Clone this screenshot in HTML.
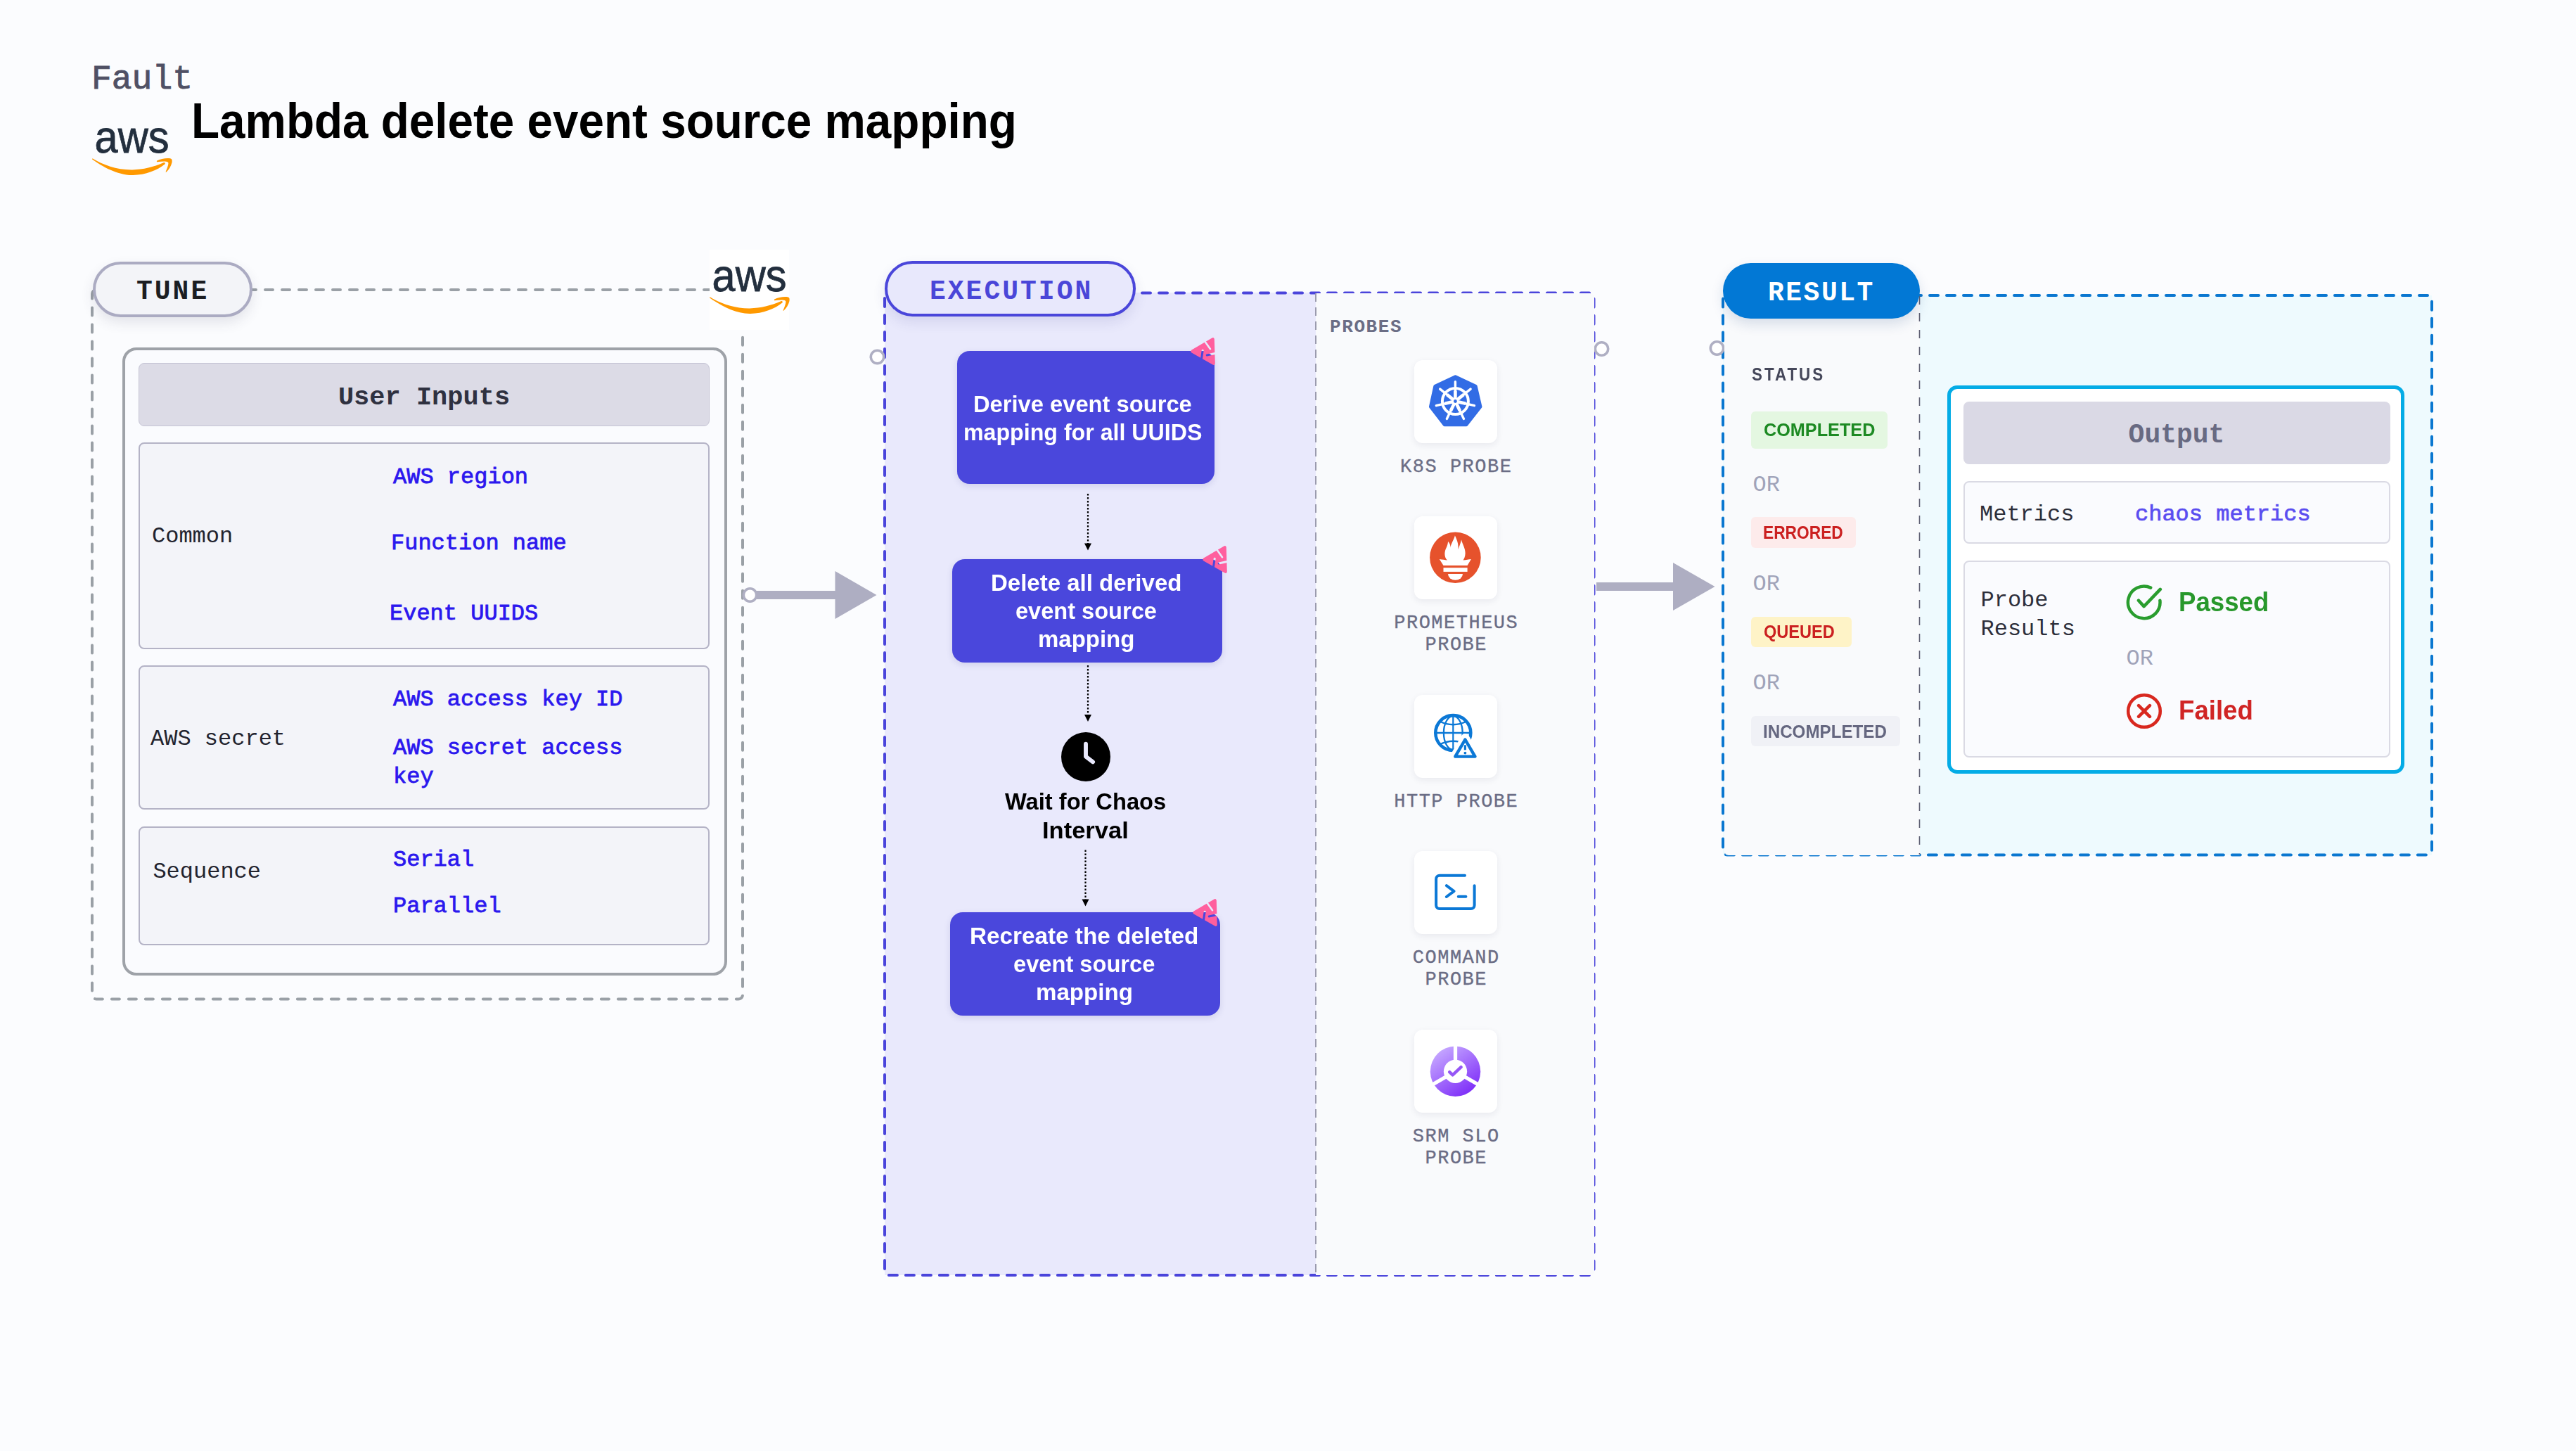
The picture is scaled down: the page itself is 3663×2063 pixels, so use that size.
<!DOCTYPE html>
<html><head><meta charset="utf-8"><style>
html,body{margin:0;padding:0;}
body{width:3663px;height:2063px;background:#FBFCFE;position:relative;overflow:hidden;}
.t{position:absolute;white-space:pre;}
.r{position:absolute;box-sizing:border-box;}
.ov{position:absolute;left:0;top:0;}
</style></head><body>
<div class="r" style="left:1258px;top:416px;width:613px;height:1397px;background:#E9E9FC;"></div>
<div class="r" style="left:2450px;top:420px;width:1008px;height:795.5px;background:#EEFAFE;"></div>
<svg class="ov" width="3663" height="2063" viewBox="0 0 3663 2063"><rect x="131" y="412" width="925" height="1008.5" rx="6" fill="none" stroke="#9AA0A6" stroke-width="4" stroke-dasharray="11 13" stroke-linecap="round"/><rect x="1258" y="416.5" width="1008.5" height="1396.5" rx="6" fill="none" stroke="#4A44DB" stroke-width="4" stroke-dasharray="12 12" stroke-linecap="round"/><rect x="2450" y="420" width="1008" height="795.5" rx="6" fill="none" stroke="#0A77D0" stroke-width="4" stroke-dasharray="12 12" stroke-linecap="round"/><rect x="1074" y="840" width="114.5" height="12" fill="#AEAEC2"/><path d="M1187.5 812.0 L1246.5 846 L1187.5 880.0 Z" fill="#AEAEC2"/><rect x="2270" y="828" width="110" height="12" fill="#AEAEC2"/><path d="M2379 800.0 L2438.5 834 L2379 868.0 Z" fill="#AEAEC2"/><circle cx="1066.5" cy="846" r="9.2" fill="#FFFFFF" stroke="#AFAFC3" stroke-width="3.6"/><circle cx="1247.5" cy="507.5" r="9.2" fill="#FFFFFF" stroke="#AFAFC3" stroke-width="3.6"/><circle cx="2277.5" cy="496" r="9.2" fill="#FFFFFF" stroke="#AFAFC3" stroke-width="3.6"/><circle cx="2441.5" cy="495" r="9.2" fill="#FFFFFF" stroke="#AFAFC3" stroke-width="3.6"/><line x1="1547" y1="702" x2="1547" y2="773.5" stroke="#000" stroke-width="2.2" stroke-dasharray="2.6 2.4"/><path d="M1542 772.5 L1552 772.5 L1547 782.5 Z" fill="#000"/><line x1="1547" y1="946" x2="1547" y2="1017" stroke="#000" stroke-width="2.2" stroke-dasharray="2.6 2.4"/><path d="M1542 1016 L1552 1016 L1547 1026 Z" fill="#000"/><line x1="1543.5" y1="1208.5" x2="1543.5" y2="1279.5" stroke="#000" stroke-width="2.2" stroke-dasharray="2.6 2.4"/><path d="M1538.5 1278.5 L1548.5 1278.5 L1543.5 1288.5 Z" fill="#000"/></svg>
<div class="r" style="left:1871px;top:417px;width:395.5px;height:1396px;background:#F9FAFC;border-radius:0 6px 6px 0;"></div>
<div class="r" style="left:2452px;top:422px;width:277.5px;height:793.5px;background:#F9FAFC;border-radius:0 0 0 6px;"></div>
<svg class="ov" width="3663" height="2063" viewBox="0 0 3663 2063"><line x1="1871" y1="417" x2="1871" y2="1813" stroke="#9B9BAE" stroke-width="2" stroke-dasharray="12 8"/><line x1="2729.5" y1="421" x2="2729.5" y2="1215" stroke="#5E5F73" stroke-width="1.6" stroke-dasharray="12 12"/></svg>
<div class="t" style="left:130.00px;top:88.73px;font:400 48px/48px 'Liberation Mono', monospace;color:#4F5064;-webkit-text-stroke:0.9px #4F5064;">Fault</div>
<div class="t" style="left:271.61px;top:138.16px;font:700 69.5px/69.5px 'Liberation Sans', sans-serif;color:#000;transform:scaleX(0.9439);transform-origin:0 0;">Lambda delete event source mapping</div>
<svg width="130" height="90" viewBox="-10 -10 130 90" style="position:absolute;left:126.19999999999999px;top:172px;overflow:visible">
<text x="-1.5" y="34.6" font-family="'Liberation Sans'" font-size="65" fill="#232F3E" stroke="#232F3E" stroke-width="0.8" textLength="106" lengthAdjust="spacingAndGlyphs">aws</text>
<path d="M-4.8 44.4 C 10 55, 30 66.5, 52 67 C 70 67.3, 88 60, 98.3 51.6 C 99.5 50.5, 98.4 48.4, 96.5 49.3 C 82 55.5, 68 59.2, 52 59.4 C 30 59.6, 10 52, -3.6 43.7 C -4.6 43.2, -5.4 43.9, -4.8 44.4 Z" fill="#FF9900"/>
<path d="M87.2 46.6 C 93 43.6, 102 42.3, 106.8 43.6 C 108.8 44.3, 108.9 46.5, 108.5 49 C 107.2 54.5, 104 59.7, 100.3 62.8 C 99.9 63.1, 99.5 62.8, 99.7 62.3 C 101.3 58.2, 103.6 52.6, 103.4 49.6 C 103.2 48, 101 47.5, 98.5 47.4 C 95 47.3, 91 47.7, 87.5 48.2 C 86.8 48.3, 86.6 47, 87.2 46.6 Z" fill="#FF9900"/>
</svg>
<div class="r" style="left:1009px;top:355px;width:113px;height:114px;background:#fff;"></div>
<svg width="130" height="90" viewBox="-10 -10 130 90" style="position:absolute;left:1004px;top:369.3px;overflow:visible">
<text x="-1.5" y="34.6" font-family="'Liberation Sans'" font-size="65" fill="#232F3E" stroke="#232F3E" stroke-width="0.8" textLength="106" lengthAdjust="spacingAndGlyphs">aws</text>
<path d="M-4.8 44.4 C 10 55, 30 66.5, 52 67 C 70 67.3, 88 60, 98.3 51.6 C 99.5 50.5, 98.4 48.4, 96.5 49.3 C 82 55.5, 68 59.2, 52 59.4 C 30 59.6, 10 52, -3.6 43.7 C -4.6 43.2, -5.4 43.9, -4.8 44.4 Z" fill="#FF9900"/>
<path d="M87.2 46.6 C 93 43.6, 102 42.3, 106.8 43.6 C 108.8 44.3, 108.9 46.5, 108.5 49 C 107.2 54.5, 104 59.7, 100.3 62.8 C 99.9 63.1, 99.5 62.8, 99.7 62.3 C 101.3 58.2, 103.6 52.6, 103.4 49.6 C 103.2 48, 101 47.5, 98.5 47.4 C 95 47.3, 91 47.7, 87.5 48.2 C 86.8 48.3, 86.6 47, 87.2 46.6 Z" fill="#FF9900"/>
</svg>
<div class="r" style="left:131.5px;top:372px;width:227.0px;height:78.5px;background:#F3F4F8;border:4px solid #ABABC2;border-radius:40px;box-shadow:0 8px 18px rgba(60,60,90,0.12);"></div>
<div class="t" style="left:194.00px;top:395.89px;font:700 38px/38px 'Liberation Mono', monospace;color:#1B1D21;letter-spacing:3px;">TUNE</div>
<div class="r" style="left:174px;top:493.5px;width:859.5px;height:893.5px;background:#FAFBFE;border:4.5px solid #9EA2A8;border-radius:20px;"></div>
<div class="r" style="left:196.5px;top:515.5px;width:812.5px;height:90.0px;background:#DCDBE6;border:1.5px solid #C5C4D4;border-radius:8px;"></div>
<div class="t" style="left:303.00px;top:546.65px;font:700 37px/37px 'Liberation Mono', monospace;color:#2F3140;width:600px;text-align:center;">User Inputs</div>
<div class="r" style="left:196.5px;top:628.5px;width:812.0px;height:294.5px;background:#F3F4F9;border:2px solid #B4B3C6;border-radius:8px;"></div>
<div class="r" style="left:196.5px;top:946px;width:812.0px;height:205px;background:#F3F4F9;border:2px solid #B4B3C6;border-radius:8px;"></div>
<div class="r" style="left:196.5px;top:1175px;width:812.0px;height:168.5px;background:#F3F4F9;border:2px solid #B4B3C6;border-radius:8px;"></div>
<div class="t" style="left:216.00px;top:746.98px;font:400 32px/32px 'Liberation Mono', monospace;color:#22232E;">Common</div>
<div class="t" style="left:559.00px;top:662.98px;font:400 32px/32px 'Liberation Mono', monospace;color:#2B17EE;-webkit-text-stroke:0.8px #2B17EE;">AWS region</div>
<div class="t" style="left:556.00px;top:756.98px;font:400 32px/32px 'Liberation Mono', monospace;color:#2B17EE;-webkit-text-stroke:0.8px #2B17EE;">Function name</div>
<div class="t" style="left:554.00px;top:856.98px;font:400 32px/32px 'Liberation Mono', monospace;color:#2B17EE;-webkit-text-stroke:0.8px #2B17EE;">Event UUIDS</div>
<div class="t" style="left:214.00px;top:1035.48px;font:400 32px/32px 'Liberation Mono', monospace;color:#22232E;">AWS secret</div>
<div class="t" style="left:559.00px;top:979.48px;font:400 32px/32px 'Liberation Mono', monospace;color:#2B17EE;-webkit-text-stroke:0.8px #2B17EE;">AWS access key ID</div>
<div class="t" style="left:559.00px;top:1048.48px;font:400 32px/32px 'Liberation Mono', monospace;color:#2B17EE;-webkit-text-stroke:0.8px #2B17EE;">AWS secret access</div>
<div class="t" style="left:559.00px;top:1089.48px;font:400 32px/32px 'Liberation Mono', monospace;color:#2B17EE;-webkit-text-stroke:0.8px #2B17EE;">key</div>
<div class="t" style="left:217.40px;top:1223.98px;font:400 32px/32px 'Liberation Mono', monospace;color:#22232E;">Sequence</div>
<div class="t" style="left:559.00px;top:1207.48px;font:400 32px/32px 'Liberation Mono', monospace;color:#2B17EE;-webkit-text-stroke:0.8px #2B17EE;">Serial</div>
<div class="t" style="left:559.00px;top:1272.88px;font:400 32px/32px 'Liberation Mono', monospace;color:#2B17EE;-webkit-text-stroke:0.8px #2B17EE;">Parallel</div>
<div class="r" style="left:1257.5px;top:370.5px;width:357.5px;height:79.0px;background:#E8E8FC;border:4px solid #4A46DA;border-radius:40px;box-shadow:0 8px 18px rgba(60,60,140,0.12);"></div>
<div class="t" style="left:1322.00px;top:395.89px;font:700 38px/38px 'Liberation Mono', monospace;color:#4A46D8;letter-spacing:3px;">EXECUTION</div>
<div class="r" style="left:1361px;top:499px;width:366px;height:188.5px;background:#4A47DC;border-radius:18px;box-shadow:0 3px 10px rgba(40,40,120,0.13);"></div>
<div class="t" style="left:1384.31px;top:557.64px;font:700 33.5px/33.5px 'Liberation Sans', sans-serif;color:#fff;transform:scaleX(0.9761);transform-origin:0 0;">Derive event source</div>
<div class="t" style="left:1370.38px;top:597.64px;font:700 33.5px/33.5px 'Liberation Sans', sans-serif;color:#fff;transform:scaleX(0.9597);transform-origin:0 0;">mapping for all UUIDS</div>
<div class="r" style="left:1353.5px;top:795px;width:384.0px;height:146.5px;background:#4A47DC;border-radius:18px;box-shadow:0 3px 10px rgba(40,40,120,0.13);"></div>
<div class="t" style="left:1409.29px;top:811.64px;font:700 33.5px/33.5px 'Liberation Sans', sans-serif;color:#fff;transform:scaleX(0.9848);transform-origin:0 0;">Delete all derived</div>
<div class="t" style="left:1444.23px;top:851.64px;font:700 33.5px/33.5px 'Liberation Sans', sans-serif;color:#fff;transform:scaleX(0.9720);transform-origin:0 0;">event source</div>
<div class="t" style="left:1476.33px;top:891.64px;font:700 33.5px/33.5px 'Liberation Sans', sans-serif;color:#fff;transform:scaleX(0.9842);transform-origin:0 0;">mapping</div>
<div class="r" style="left:1350.5px;top:1297px;width:384.0px;height:146.5px;background:#4A47DC;border-radius:18px;box-shadow:0 3px 10px rgba(40,40,120,0.13);"></div>
<div class="t" style="left:1379.27px;top:1314.14px;font:700 33.5px/33.5px 'Liberation Sans', sans-serif;color:#fff;transform:scaleX(0.9931);transform-origin:0 0;">Recreate the deleted</div>
<div class="t" style="left:1441.22px;top:1354.14px;font:700 33.5px/33.5px 'Liberation Sans', sans-serif;color:#fff;transform:scaleX(0.9744);transform-origin:0 0;">event source</div>
<div class="t" style="left:1472.82px;top:1394.14px;font:700 33.5px/33.5px 'Liberation Sans', sans-serif;color:#fff;transform:scaleX(0.9879);transform-origin:0 0;">mapping</div>
<svg width="72" height="72" viewBox="0 0 72 72" style="position:absolute;left:1507.5px;top:1039.7px"><circle cx="36" cy="36" r="35" fill="#000"/><path d="M36 17.6 V35.7 L46.1 43.3" fill="none" stroke="#E9E9FC" stroke-width="5.9" stroke-linecap="round" stroke-linejoin="round"/></svg>
<div class="t" style="left:1428.97px;top:1122.64px;font:700 33.5px/33.5px 'Liberation Sans', sans-serif;color:#000;transform:scaleX(0.9746);transform-origin:0 0;">Wait for Chaos</div>
<div class="t" style="left:1481.69px;top:1164.14px;font:700 33.5px/33.5px 'Liberation Sans', sans-serif;color:#000;transform:scaleX(1.0301);transform-origin:0 0;">Interval</div>
<svg width="60" height="60" viewBox="0 0 60 60" style="position:absolute;left:1680px;top:470px">
<defs><mask id="bm1" maskUnits="userSpaceOnUse" x="0" y="0" width="60" height="60"><rect width="60" height="60" fill="#fff"/>
<path d="M33.9 16.2 L41 26.2" stroke="#000" stroke-width="2.6" stroke-linecap="round"/>
<path d="M30.2 28.3 L28.2 42" stroke="#000" stroke-width="3" stroke-linecap="round"/>
<path d="M36.2 35 L50 32" stroke="#000" stroke-width="3" stroke-linecap="round"/>
</mask></defs>
<path d="M15.6 29.5 L44.6 12.4 L45.6 46.7 Z" fill="#FF5F9E" stroke="#FF5F9E" stroke-width="4.4" stroke-linejoin="round" mask="url(#bm1)"/>
</svg>
<svg width="60" height="60" viewBox="0 0 60 60" style="position:absolute;left:1697px;top:766px">
<defs><mask id="bm2" maskUnits="userSpaceOnUse" x="0" y="0" width="60" height="60"><rect width="60" height="60" fill="#fff"/>
<path d="M33.9 16.2 L41 26.2" stroke="#000" stroke-width="2.6" stroke-linecap="round"/>
<path d="M30.2 28.3 L28.2 42" stroke="#000" stroke-width="3" stroke-linecap="round"/>
<path d="M36.2 35 L50 32" stroke="#000" stroke-width="3" stroke-linecap="round"/>
</mask></defs>
<path d="M15.6 29.5 L44.6 12.4 L45.6 46.7 Z" fill="#FF5F9E" stroke="#FF5F9E" stroke-width="4.4" stroke-linejoin="round" mask="url(#bm2)"/>
</svg>
<svg width="60" height="60" viewBox="0 0 60 60" style="position:absolute;left:1683px;top:1268px">
<defs><mask id="bm3" maskUnits="userSpaceOnUse" x="0" y="0" width="60" height="60"><rect width="60" height="60" fill="#fff"/>
<path d="M33.9 16.2 L41 26.2" stroke="#000" stroke-width="2.6" stroke-linecap="round"/>
<path d="M30.2 28.3 L28.2 42" stroke="#000" stroke-width="3" stroke-linecap="round"/>
<path d="M36.2 35 L50 32" stroke="#000" stroke-width="3" stroke-linecap="round"/>
</mask></defs>
<path d="M15.6 29.5 L44.6 12.4 L45.6 46.7 Z" fill="#FF5F9E" stroke="#FF5F9E" stroke-width="4.4" stroke-linejoin="round" mask="url(#bm3)"/>
</svg>
<div class="t" style="left:1891.00px;top:451.58px;font:700 26px/26px 'Liberation Mono', monospace;color:#6B6D85;letter-spacing:1.6px;">PROBES</div>
<div class="r" style="left:2011px;top:512px;width:118px;height:118px;background:#fff;border-radius:12px;box-shadow:0 3px 10px rgba(40,40,80,0.08);"></div>
<svg width="118" height="118" viewBox="0 0 118 118" style="position:absolute;left:2011px;top:512px"><path d="M58.51 23.80 L87.23 37.27 L93.94 66.25 L73.97 91.78 L43.15 91.79 L23.46 66.25 L29.78 37.25 Z" fill="#326CE5" stroke="#326CE5" stroke-width="5" stroke-linejoin="round"/>
<circle cx="58.4" cy="58.5" r="18.5" fill="none" stroke="#fff" stroke-width="4"/><path d="M58.40 53.50 L58.40 30.70" stroke="#fff" stroke-width="3.4" stroke-linecap="round"/><path d="M58.40 53.50 L58.40 43.50" stroke="#fff" stroke-width="4.6"/><path d="M62.31 55.38 L80.13 41.17" stroke="#fff" stroke-width="3.4" stroke-linecap="round"/><path d="M62.31 55.38 L70.13 49.15" stroke="#fff" stroke-width="4.6"/><path d="M63.27 59.61 L85.50 64.69" stroke="#fff" stroke-width="3.4" stroke-linecap="round"/><path d="M63.27 59.61 L73.02 61.84" stroke="#fff" stroke-width="4.6"/><path d="M60.57 63.00 L70.46 83.55" stroke="#fff" stroke-width="3.4" stroke-linecap="round"/><path d="M60.57 63.00 L64.91 72.01" stroke="#fff" stroke-width="4.6"/><path d="M56.23 63.00 L46.34 83.55" stroke="#fff" stroke-width="3.4" stroke-linecap="round"/><path d="M56.23 63.00 L51.89 72.01" stroke="#fff" stroke-width="4.6"/><path d="M53.53 59.61 L31.30 64.69" stroke="#fff" stroke-width="3.4" stroke-linecap="round"/><path d="M53.53 59.61 L43.78 61.84" stroke="#fff" stroke-width="4.6"/><path d="M54.49 55.38 L36.67 41.17" stroke="#fff" stroke-width="3.4" stroke-linecap="round"/><path d="M54.49 55.38 L46.67 49.15" stroke="#fff" stroke-width="4.6"/>
<circle cx="58.4" cy="58.5" r="5.5" fill="#fff"/><circle cx="58.4" cy="58.5" r="2.4" fill="#326CE5"/></svg>
<div class="t" style="left:1920.00px;top:650.81px;font:400 27px/27px 'Liberation Mono', monospace;color:#6B6D85;letter-spacing:1.5px;width:300px;text-align:center;text-indent:1.5px;-webkit-text-stroke:0.35px #6B6D85;">K8S PROBE</div>
<div class="r" style="left:2011px;top:734px;width:118px;height:118px;background:#fff;border-radius:12px;box-shadow:0 3px 10px rgba(40,40,80,0.08);"></div>
<svg width="118" height="118" viewBox="0 0 118 118" style="position:absolute;left:2011px;top:734px"><circle cx="58.4" cy="58.7" r="36.3" fill="#E6522C"/>
<path d="M35.8 61 C 40 61.5, 44 62, 47 62.6 C 42.5 58.5, 42.5 51, 45.5 45 C 47.2 41.5, 48 38.5, 48 35.8 C 50.5 38.2, 51.8 41.5, 51.3 45 C 52.5 38, 56.8 33, 57.9 27.2 C 60.5 33.5, 63.5 39, 62.3 47.3 C 64.2 42.5, 66.3 37.5, 67 33.3 C 68.5 40, 72.8 45.5, 72.6 53 C 72.5 57.5, 70.8 60.5, 69.6 62.6 C 73.5 62, 77.5 61.4, 80.9 61 L 75.6 70 L 41.5 70 Z" fill="#fff"/>
<rect x="41.5" y="73.2" width="34.1" height="5.7" fill="#fff"/>
<path d="M48 82 L69 82 A10.5 8.7 0 0 1 48 82 Z" fill="#fff"/></svg>
<div class="t" style="left:1920.00px;top:872.81px;font:400 27px/27px 'Liberation Mono', monospace;color:#6B6D85;letter-spacing:1.5px;width:300px;text-align:center;text-indent:1.5px;-webkit-text-stroke:0.35px #6B6D85;">PROMETHEUS</div>
<div class="t" style="left:1920.00px;top:904.31px;font:400 27px/27px 'Liberation Mono', monospace;color:#6B6D85;letter-spacing:1.5px;width:300px;text-align:center;text-indent:1.5px;-webkit-text-stroke:0.35px #6B6D85;">PROBE</div>
<div class="r" style="left:2011px;top:988px;width:118px;height:118px;background:#fff;border-radius:12px;box-shadow:0 3px 10px rgba(40,40,80,0.08);"></div>
<svg width="118" height="118" viewBox="0 0 118 118" style="position:absolute;left:2011px;top:988px"><defs><mask id="hm" maskUnits="userSpaceOnUse" x="0" y="0" width="118" height="118"><rect width="118" height="118" fill="#fff"/>
<path d="M72.4 61 L56 89.4 L88.6 89.4 Z" fill="#000" stroke="#000" stroke-width="12" stroke-linejoin="round"/></mask></defs>
<g mask="url(#hm)" fill="none" stroke="#0B78D6">
<circle cx="55.3" cy="54" r="25" stroke-width="4.6"/>
<ellipse cx="55.3" cy="54" rx="13.4" ry="24" stroke-width="2.3"/>
<path d="M55.3 30 V78" stroke-width="2.2"/>
<path d="M31 54 H80" stroke-width="2.4"/>
<path d="M36 37.5 Q 55.3 47, 74.6 37.5" stroke-width="2.3"/>
<path d="M36 70.5 Q 55.3 61, 74.6 70.5" stroke-width="2.3"/>
</g>
<path d="M72.4 63.5 L58.3 87.6 L86.5 87.6 Z" fill="none" stroke="#0B78D6" stroke-width="4.4" stroke-linejoin="round"/>
<path d="M72.4 71.3 V78.3" stroke="#0B78D6" stroke-width="3.2"/>
<circle cx="72.4" cy="82.6" r="1.9" fill="#0B78D6"/></svg>
<div class="t" style="left:1920.00px;top:1126.81px;font:400 27px/27px 'Liberation Mono', monospace;color:#6B6D85;letter-spacing:1.5px;width:300px;text-align:center;text-indent:1.5px;-webkit-text-stroke:0.35px #6B6D85;">HTTP PROBE</div>
<div class="r" style="left:2011px;top:1210px;width:118px;height:118px;background:#fff;border-radius:12px;box-shadow:0 3px 10px rgba(40,40,80,0.08);"></div>
<svg width="118" height="118" viewBox="0 0 118 118" style="position:absolute;left:2011px;top:1210px"><path d="M72 34.8 H36 A4.9 4.9 0 0 0 31.1 39.7 V77 A4.9 4.9 0 0 0 36 81.9 H80.7 A4.9 4.9 0 0 0 85.6 77 V49.2" fill="none" stroke="#0B78D6" stroke-width="4" stroke-linecap="round"/>
<path d="M45.9 49.2 L56.5 57.1 L45.9 65" fill="none" stroke="#0B78D6" stroke-width="4" stroke-linecap="round" stroke-linejoin="round"/>
<path d="M62.8 64.8 H73.4" stroke="#0B78D6" stroke-width="4" stroke-linecap="round"/></svg>
<div class="t" style="left:1920.00px;top:1348.81px;font:400 27px/27px 'Liberation Mono', monospace;color:#6B6D85;letter-spacing:1.5px;width:300px;text-align:center;text-indent:1.5px;-webkit-text-stroke:0.35px #6B6D85;">COMMAND</div>
<div class="t" style="left:1920.00px;top:1380.31px;font:400 27px/27px 'Liberation Mono', monospace;color:#6B6D85;letter-spacing:1.5px;width:300px;text-align:center;text-indent:1.5px;-webkit-text-stroke:0.35px #6B6D85;">PROBE</div>
<div class="r" style="left:2011px;top:1464px;width:118px;height:118px;background:#fff;border-radius:12px;box-shadow:0 3px 10px rgba(40,40,80,0.08);"></div>
<svg width="118" height="118" viewBox="0 0 118 118" style="position:absolute;left:2011px;top:1464px"><defs><linearGradient id="sg" x1="0.2" y1="0.1" x2="0.8" y2="0.95"><stop offset="0" stop-color="#C3A3FF"/><stop offset="1" stop-color="#7D2CF8"/></linearGradient>
<mask id="sm" maskUnits="userSpaceOnUse" x="0" y="0" width="118" height="118"><rect width="118" height="118" fill="#fff"/><path d="M58.50 59.30 L58.50 19.30" stroke="#000" stroke-width="5.3"/><path d="M58.50 59.30 L93.14 79.30" stroke="#000" stroke-width="5.3"/><path d="M58.50 59.30 L23.86 79.30" stroke="#000" stroke-width="5.3"/><circle cx="58.5" cy="59.3" r="16.6" fill="#000"/></mask></defs>
<circle cx="58.5" cy="59.3" r="35.7" fill="url(#sg)" mask="url(#sm)"/>
<path d="M50.2 60.2 L54.6 64.4 L66.6 53.2" fill="none" stroke="#9556F6" stroke-width="4.4" stroke-linecap="round" stroke-linejoin="round"/></svg>
<div class="t" style="left:1920.00px;top:1602.81px;font:400 27px/27px 'Liberation Mono', monospace;color:#6B6D85;letter-spacing:1.5px;width:300px;text-align:center;text-indent:1.5px;-webkit-text-stroke:0.35px #6B6D85;">SRM SLO</div>
<div class="t" style="left:1920.00px;top:1634.31px;font:400 27px/27px 'Liberation Mono', monospace;color:#6B6D85;letter-spacing:1.5px;width:300px;text-align:center;text-indent:1.5px;-webkit-text-stroke:0.35px #6B6D85;">PROBE</div>
<div class="r" style="left:2450px;top:374px;width:280px;height:78.5px;background:#0278D5;border-radius:40px;box-shadow:0 8px 18px rgba(20,60,120,0.15);"></div>
<div class="t" style="left:2514.00px;top:398.39px;font:700 38px/38px 'Liberation Mono', monospace;color:#fff;letter-spacing:2.5px;">RESULT</div>
<div class="t" style="left:2491.36px;top:518.99px;font:700 26px/26px 'Liberation Sans', sans-serif;color:#45475A;letter-spacing:3.5px;transform:scaleX(0.8602);transform-origin:0 0;">STATUS</div>
<div class="r" style="left:2490px;top:585px;width:194px;height:52.5px;background:#E4F7E1;border-radius:6px;"></div>
<div class="t" style="left:2507.67px;top:598.06px;font:700 26.5px/26.5px 'Liberation Sans', sans-serif;color:#1D8A23;transform:scaleX(0.9521);transform-origin:0 0;">COMPLETED</div>
<div class="r" style="left:2490px;top:735.3px;width:148.69999999999982px;height:43.90000000000009px;background:#FDEBEB;border-radius:6px;"></div>
<div class="t" style="left:2507.18px;top:743.86px;font:700 26.5px/26.5px 'Liberation Sans', sans-serif;color:#CB2020;transform:scaleX(0.8586);transform-origin:0 0;">ERRORED</div>
<div class="r" style="left:2490px;top:877px;width:142.5999999999999px;height:43.299999999999955px;background:#FEF3C7;border-radius:6px;"></div>
<div class="t" style="left:2507.73px;top:884.96px;font:700 26.5px/26.5px 'Liberation Sans', sans-serif;color:#CB2020;transform:scaleX(0.8896);transform-origin:0 0;">QUEUED</div>
<div class="r" style="left:2490px;top:1018px;width:211.80000000000018px;height:43px;background:#F0F1F6;border-radius:6px;"></div>
<div class="t" style="left:2507.08px;top:1026.76px;font:700 26.5px/26.5px 'Liberation Sans', sans-serif;color:#656780;transform:scaleX(0.9117);transform-origin:0 0;">INCOMPLETED</div>
<div class="t" style="left:2492.50px;top:673.98px;font:400 32px/32px 'Liberation Mono', monospace;color:#A0A3B9;">OR</div>
<div class="t" style="left:2492.50px;top:815.48px;font:400 32px/32px 'Liberation Mono', monospace;color:#A0A3B9;">OR</div>
<div class="t" style="left:2492.50px;top:956.48px;font:400 32px/32px 'Liberation Mono', monospace;color:#A0A3B9;">OR</div>
<div class="r" style="left:2769px;top:548px;width:650px;height:552px;background:#FFFFFF;border:5px solid #04ACE6;border-radius:14px;"></div>
<div class="r" style="left:2791.5px;top:571px;width:607.5px;height:89px;background:#DAD9E5;border-radius:8px;"></div>
<div class="t" style="left:2895.00px;top:599.89px;font:700 38px/38px 'Liberation Mono', monospace;color:#686A82;width:400px;text-align:center;">Output</div>
<div class="r" style="left:2791.5px;top:683.5px;width:607.5px;height:89.5px;background:#FAFBFE;border:2px solid #DADAE4;border-radius:8px;"></div>
<div class="r" style="left:2791.5px;top:796.5px;width:607.5px;height:280.5px;background:#FAFBFE;border:2px solid #DADAE4;border-radius:8px;"></div>
<div class="t" style="left:2815.00px;top:716.48px;font:400 32px/32px 'Liberation Mono', monospace;color:#2C2E3A;">Metrics</div>
<div class="t" style="left:3036.00px;top:716.48px;font:400 32px/32px 'Liberation Mono', monospace;color:#5A4DF0;-webkit-text-stroke:0.7px #5A4DF0;">chaos metrics</div>
<div class="t" style="left:2816.50px;top:837.98px;font:400 32px/32px 'Liberation Mono', monospace;color:#2C2E3A;">Probe</div>
<div class="t" style="left:2816.50px;top:878.98px;font:400 32px/32px 'Liberation Mono', monospace;color:#2C2E3A;">Results</div>
<svg width="3663" height="2063" style="position:absolute;left:0;top:0;overflow:visible" viewBox="0 0 3663 2063"><path d="M3058.20 835.60 A22.8 22.8 0 1 0 3071.40 853.80" fill="none" stroke="#2A9D2F" stroke-width="4.5" stroke-linecap="round"/><path d="M3041.00 853.80 L3048.60 862.10 L3071.80 837.90" fill="none" stroke="#2A9D2F" stroke-width="4.6" stroke-linecap="round" stroke-linejoin="round"/></svg>
<div class="t" style="left:3097.55px;top:837.40px;font:700 38.5px/38.5px 'Liberation Sans', sans-serif;color:#28982C;transform:scaleX(0.9520);transform-origin:0 0;">Passed</div>
<div class="t" style="left:3023.50px;top:921.48px;font:400 32px/32px 'Liberation Mono', monospace;color:#A0A3B9;">OR</div>
<svg width="60" height="60" viewBox="0 0 60 60" style="position:absolute;left:3018.6px;top:980.6px"><circle cx="30" cy="30" r="22.8" fill="none" stroke="#D8281F" stroke-width="4.5"/><path d="M22.1 22.1 L37.9 37.9 M37.9 22.1 L22.1 37.9" stroke="#D8281F" stroke-width="4.6" stroke-linecap="round"/></svg>
<div class="t" style="left:3097.55px;top:990.90px;font:700 38.5px/38.5px 'Liberation Sans', sans-serif;color:#D02525;transform:scaleX(0.9516);transform-origin:0 0;">Failed</div>
</body></html>
